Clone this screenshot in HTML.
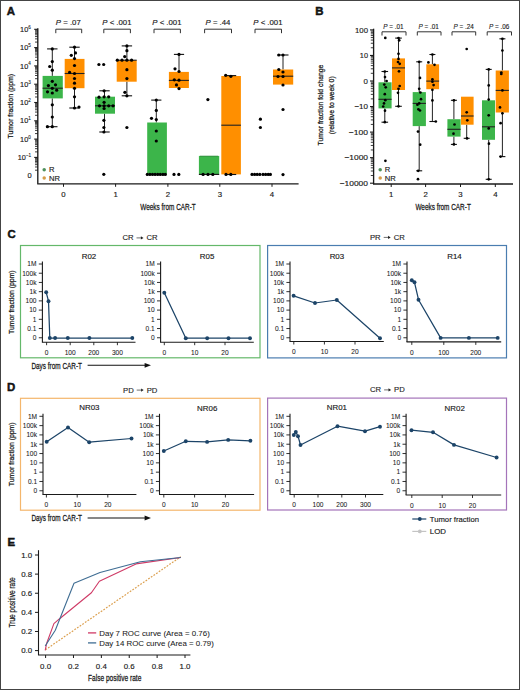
<!DOCTYPE html>
<html><head><meta charset="utf-8"><style>
html,body{margin:0;padding:0;background:#fff;}
svg{display:block;}
text{font-family:"Liberation Sans", sans-serif;fill:#1a1a1a;}
</style></head><body>
<svg width="520" height="690" viewBox="0 0 520 690">
<rect x="0" y="0" width="520" height="690" fill="#fff"/>
<text x="0" y="0" font-size="10.8" font-weight="bold" fill="#000" stroke="#000" stroke-width="0.4" transform="translate(6.70 15.00) scale(1.06 1)">A</text>
<line x1="37.80" y1="28.30" x2="37.80" y2="183.80" stroke="#1a1a1a" stroke-width="1.35"/>
<line x1="37.20" y1="183.80" x2="298.60" y2="183.80" stroke="#1a1a1a" stroke-width="1.3"/>
<line x1="34.20" y1="29.30" x2="37.80" y2="29.30" stroke="#1a1a1a" stroke-width="1.1"/>
<line x1="34.20" y1="47.60" x2="37.80" y2="47.60" stroke="#1a1a1a" stroke-width="1.1"/>
<line x1="34.20" y1="65.90" x2="37.80" y2="65.90" stroke="#1a1a1a" stroke-width="1.1"/>
<line x1="34.20" y1="84.20" x2="37.80" y2="84.20" stroke="#1a1a1a" stroke-width="1.1"/>
<line x1="34.20" y1="102.50" x2="37.80" y2="102.50" stroke="#1a1a1a" stroke-width="1.1"/>
<line x1="34.20" y1="120.80" x2="37.80" y2="120.80" stroke="#1a1a1a" stroke-width="1.1"/>
<line x1="34.20" y1="139.10" x2="37.80" y2="139.10" stroke="#1a1a1a" stroke-width="1.1"/>
<line x1="34.20" y1="157.40" x2="37.80" y2="157.40" stroke="#1a1a1a" stroke-width="1.1"/>
<line x1="35.00" y1="42.09" x2="37.80" y2="42.09" stroke="#1a1a1a" stroke-width="0.85"/>
<line x1="35.00" y1="38.87" x2="37.80" y2="38.87" stroke="#1a1a1a" stroke-width="0.85"/>
<line x1="35.00" y1="36.58" x2="37.80" y2="36.58" stroke="#1a1a1a" stroke-width="0.85"/>
<line x1="35.00" y1="34.81" x2="37.80" y2="34.81" stroke="#1a1a1a" stroke-width="0.85"/>
<line x1="35.00" y1="33.36" x2="37.80" y2="33.36" stroke="#1a1a1a" stroke-width="0.85"/>
<line x1="35.00" y1="32.13" x2="37.80" y2="32.13" stroke="#1a1a1a" stroke-width="0.85"/>
<line x1="35.00" y1="31.07" x2="37.80" y2="31.07" stroke="#1a1a1a" stroke-width="0.85"/>
<line x1="35.00" y1="30.14" x2="37.80" y2="30.14" stroke="#1a1a1a" stroke-width="0.85"/>
<line x1="35.00" y1="60.39" x2="37.80" y2="60.39" stroke="#1a1a1a" stroke-width="0.85"/>
<line x1="35.00" y1="57.17" x2="37.80" y2="57.17" stroke="#1a1a1a" stroke-width="0.85"/>
<line x1="35.00" y1="54.88" x2="37.80" y2="54.88" stroke="#1a1a1a" stroke-width="0.85"/>
<line x1="35.00" y1="53.11" x2="37.80" y2="53.11" stroke="#1a1a1a" stroke-width="0.85"/>
<line x1="35.00" y1="51.66" x2="37.80" y2="51.66" stroke="#1a1a1a" stroke-width="0.85"/>
<line x1="35.00" y1="50.43" x2="37.80" y2="50.43" stroke="#1a1a1a" stroke-width="0.85"/>
<line x1="35.00" y1="49.37" x2="37.80" y2="49.37" stroke="#1a1a1a" stroke-width="0.85"/>
<line x1="35.00" y1="48.44" x2="37.80" y2="48.44" stroke="#1a1a1a" stroke-width="0.85"/>
<line x1="35.00" y1="78.69" x2="37.80" y2="78.69" stroke="#1a1a1a" stroke-width="0.85"/>
<line x1="35.00" y1="75.47" x2="37.80" y2="75.47" stroke="#1a1a1a" stroke-width="0.85"/>
<line x1="35.00" y1="73.18" x2="37.80" y2="73.18" stroke="#1a1a1a" stroke-width="0.85"/>
<line x1="35.00" y1="71.41" x2="37.80" y2="71.41" stroke="#1a1a1a" stroke-width="0.85"/>
<line x1="35.00" y1="69.96" x2="37.80" y2="69.96" stroke="#1a1a1a" stroke-width="0.85"/>
<line x1="35.00" y1="68.73" x2="37.80" y2="68.73" stroke="#1a1a1a" stroke-width="0.85"/>
<line x1="35.00" y1="67.67" x2="37.80" y2="67.67" stroke="#1a1a1a" stroke-width="0.85"/>
<line x1="35.00" y1="66.74" x2="37.80" y2="66.74" stroke="#1a1a1a" stroke-width="0.85"/>
<line x1="35.00" y1="96.99" x2="37.80" y2="96.99" stroke="#1a1a1a" stroke-width="0.85"/>
<line x1="35.00" y1="93.77" x2="37.80" y2="93.77" stroke="#1a1a1a" stroke-width="0.85"/>
<line x1="35.00" y1="91.48" x2="37.80" y2="91.48" stroke="#1a1a1a" stroke-width="0.85"/>
<line x1="35.00" y1="89.71" x2="37.80" y2="89.71" stroke="#1a1a1a" stroke-width="0.85"/>
<line x1="35.00" y1="88.26" x2="37.80" y2="88.26" stroke="#1a1a1a" stroke-width="0.85"/>
<line x1="35.00" y1="87.03" x2="37.80" y2="87.03" stroke="#1a1a1a" stroke-width="0.85"/>
<line x1="35.00" y1="85.97" x2="37.80" y2="85.97" stroke="#1a1a1a" stroke-width="0.85"/>
<line x1="35.00" y1="85.04" x2="37.80" y2="85.04" stroke="#1a1a1a" stroke-width="0.85"/>
<line x1="35.00" y1="115.29" x2="37.80" y2="115.29" stroke="#1a1a1a" stroke-width="0.85"/>
<line x1="35.00" y1="112.07" x2="37.80" y2="112.07" stroke="#1a1a1a" stroke-width="0.85"/>
<line x1="35.00" y1="109.78" x2="37.80" y2="109.78" stroke="#1a1a1a" stroke-width="0.85"/>
<line x1="35.00" y1="108.01" x2="37.80" y2="108.01" stroke="#1a1a1a" stroke-width="0.85"/>
<line x1="35.00" y1="106.56" x2="37.80" y2="106.56" stroke="#1a1a1a" stroke-width="0.85"/>
<line x1="35.00" y1="105.33" x2="37.80" y2="105.33" stroke="#1a1a1a" stroke-width="0.85"/>
<line x1="35.00" y1="104.27" x2="37.80" y2="104.27" stroke="#1a1a1a" stroke-width="0.85"/>
<line x1="35.00" y1="103.34" x2="37.80" y2="103.34" stroke="#1a1a1a" stroke-width="0.85"/>
<line x1="35.00" y1="133.59" x2="37.80" y2="133.59" stroke="#1a1a1a" stroke-width="0.85"/>
<line x1="35.00" y1="130.37" x2="37.80" y2="130.37" stroke="#1a1a1a" stroke-width="0.85"/>
<line x1="35.00" y1="128.08" x2="37.80" y2="128.08" stroke="#1a1a1a" stroke-width="0.85"/>
<line x1="35.00" y1="126.31" x2="37.80" y2="126.31" stroke="#1a1a1a" stroke-width="0.85"/>
<line x1="35.00" y1="124.86" x2="37.80" y2="124.86" stroke="#1a1a1a" stroke-width="0.85"/>
<line x1="35.00" y1="123.63" x2="37.80" y2="123.63" stroke="#1a1a1a" stroke-width="0.85"/>
<line x1="35.00" y1="122.57" x2="37.80" y2="122.57" stroke="#1a1a1a" stroke-width="0.85"/>
<line x1="35.00" y1="121.64" x2="37.80" y2="121.64" stroke="#1a1a1a" stroke-width="0.85"/>
<line x1="35.00" y1="151.89" x2="37.80" y2="151.89" stroke="#1a1a1a" stroke-width="0.85"/>
<line x1="35.00" y1="148.67" x2="37.80" y2="148.67" stroke="#1a1a1a" stroke-width="0.85"/>
<line x1="35.00" y1="146.38" x2="37.80" y2="146.38" stroke="#1a1a1a" stroke-width="0.85"/>
<line x1="35.00" y1="144.61" x2="37.80" y2="144.61" stroke="#1a1a1a" stroke-width="0.85"/>
<line x1="35.00" y1="143.16" x2="37.80" y2="143.16" stroke="#1a1a1a" stroke-width="0.85"/>
<line x1="35.00" y1="141.93" x2="37.80" y2="141.93" stroke="#1a1a1a" stroke-width="0.85"/>
<line x1="35.00" y1="140.87" x2="37.80" y2="140.87" stroke="#1a1a1a" stroke-width="0.85"/>
<line x1="35.00" y1="139.94" x2="37.80" y2="139.94" stroke="#1a1a1a" stroke-width="0.85"/>
<line x1="35.00" y1="170.19" x2="37.80" y2="170.19" stroke="#1a1a1a" stroke-width="0.85"/>
<line x1="35.00" y1="166.97" x2="37.80" y2="166.97" stroke="#1a1a1a" stroke-width="0.85"/>
<line x1="35.00" y1="164.68" x2="37.80" y2="164.68" stroke="#1a1a1a" stroke-width="0.85"/>
<line x1="35.00" y1="162.91" x2="37.80" y2="162.91" stroke="#1a1a1a" stroke-width="0.85"/>
<line x1="35.00" y1="161.46" x2="37.80" y2="161.46" stroke="#1a1a1a" stroke-width="0.85"/>
<line x1="35.00" y1="160.23" x2="37.80" y2="160.23" stroke="#1a1a1a" stroke-width="0.85"/>
<line x1="35.00" y1="159.17" x2="37.80" y2="159.17" stroke="#1a1a1a" stroke-width="0.85"/>
<line x1="35.00" y1="158.24" x2="37.80" y2="158.24" stroke="#1a1a1a" stroke-width="0.85"/>
<text x="28.24" y="31.90" font-size="7.3" text-anchor="end" stroke="#1a1a1a" stroke-width="0.15">10</text>
<text x="28.34" y="28.80" font-size="4.6" stroke="#1a1a1a" stroke-width="0.1">6</text>
<text x="28.24" y="50.20" font-size="7.3" text-anchor="end" stroke="#1a1a1a" stroke-width="0.15">10</text>
<text x="28.34" y="47.10" font-size="4.6" stroke="#1a1a1a" stroke-width="0.1">5</text>
<text x="28.24" y="68.50" font-size="7.3" text-anchor="end" stroke="#1a1a1a" stroke-width="0.15">10</text>
<text x="28.34" y="65.40" font-size="4.6" stroke="#1a1a1a" stroke-width="0.1">4</text>
<text x="28.24" y="86.80" font-size="7.3" text-anchor="end" stroke="#1a1a1a" stroke-width="0.15">10</text>
<text x="28.34" y="83.70" font-size="4.6" stroke="#1a1a1a" stroke-width="0.1">3</text>
<text x="28.24" y="105.10" font-size="7.3" text-anchor="end" stroke="#1a1a1a" stroke-width="0.15">10</text>
<text x="28.34" y="102.00" font-size="4.6" stroke="#1a1a1a" stroke-width="0.1">2</text>
<text x="28.24" y="123.40" font-size="7.3" text-anchor="end" stroke="#1a1a1a" stroke-width="0.15">10</text>
<text x="28.34" y="120.30" font-size="4.6" stroke="#1a1a1a" stroke-width="0.1">1</text>
<text x="28.24" y="141.70" font-size="7.3" text-anchor="end" stroke="#1a1a1a" stroke-width="0.15">10</text>
<text x="28.34" y="138.60" font-size="4.6" stroke="#1a1a1a" stroke-width="0.1">0</text>
<text x="25.80" y="160.00" font-size="7.3" text-anchor="end" stroke="#1a1a1a" stroke-width="0.15">10</text>
<text x="25.90" y="156.90" font-size="4.6" stroke="#1a1a1a" stroke-width="0.1">&#8722;1</text>
<text x="31.60" y="178.32" font-size="7.5" text-anchor="end" stroke="#1a1a1a" stroke-width="0.15">0</text>
<text x="12.90" y="106.20" font-size="8" text-anchor="middle" stroke="#1a1a1a" stroke-width="0.26" textLength="64.70" lengthAdjust="spacingAndGlyphs" transform="rotate(-90 12.90 106.20)">Tumor fraction (ppm)</text>
<line x1="63.50" y1="183.80" x2="63.50" y2="186.80" stroke="#1a1a1a" stroke-width="1"/>
<text x="63.50" y="197.13" font-size="7.8" text-anchor="middle" stroke="#1a1a1a" stroke-width="0.15">0</text>
<line x1="115.60" y1="183.80" x2="115.60" y2="186.80" stroke="#1a1a1a" stroke-width="1"/>
<text x="115.60" y="197.13" font-size="7.8" text-anchor="middle" stroke="#1a1a1a" stroke-width="0.15">1</text>
<line x1="167.90" y1="183.80" x2="167.90" y2="186.80" stroke="#1a1a1a" stroke-width="1"/>
<text x="167.90" y="197.13" font-size="7.8" text-anchor="middle" stroke="#1a1a1a" stroke-width="0.15">2</text>
<line x1="219.80" y1="183.80" x2="219.80" y2="186.80" stroke="#1a1a1a" stroke-width="1"/>
<text x="219.80" y="197.13" font-size="7.8" text-anchor="middle" stroke="#1a1a1a" stroke-width="0.15">3</text>
<line x1="272.00" y1="183.80" x2="272.00" y2="186.80" stroke="#1a1a1a" stroke-width="1"/>
<text x="272.00" y="197.13" font-size="7.8" text-anchor="middle" stroke="#1a1a1a" stroke-width="0.15">4</text>
<text x="168.00" y="210.20" font-size="9" text-anchor="middle" stroke="#1a1a1a" stroke-width="0.26" textLength="55.40" lengthAdjust="spacingAndGlyphs">Weeks from CAR-T</text>
<text x="68.30" y="25.35" font-size="7.8" text-anchor="middle" stroke="#1a1a1a" stroke-width="0.15"><tspan font-style="italic">P</tspan> = .07</text>
<text x="116.90" y="25.35" font-size="7.8" text-anchor="middle" stroke="#1a1a1a" stroke-width="0.15"><tspan font-style="italic">P</tspan> &lt; .001</text>
<text x="166.90" y="25.35" font-size="7.8" text-anchor="middle" stroke="#1a1a1a" stroke-width="0.15"><tspan font-style="italic">P</tspan> &lt; .001</text>
<text x="218.00" y="25.35" font-size="7.8" text-anchor="middle" stroke="#1a1a1a" stroke-width="0.15"><tspan font-style="italic">P</tspan> = .44</text>
<text x="267.90" y="25.35" font-size="7.8" text-anchor="middle" stroke="#1a1a1a" stroke-width="0.15"><tspan font-style="italic">P</tspan> &lt; .001</text>
<polyline points="55.80,33.2 55.80,29.2 81.70,29.2 81.70,33.2" fill="none" stroke="#333" stroke-width="1"/>
<polyline points="103.80,33.2 103.80,29.2 130.40,29.2 130.40,33.2" fill="none" stroke="#333" stroke-width="1"/>
<polyline points="154.00,33.2 154.00,29.2 180.40,29.2 180.40,33.2" fill="none" stroke="#333" stroke-width="1"/>
<polyline points="204.60,33.2 204.60,29.2 231.50,29.2 231.50,33.2" fill="none" stroke="#333" stroke-width="1"/>
<polyline points="255.00,33.2 255.00,29.2 281.50,29.2 281.50,33.2" fill="none" stroke="#333" stroke-width="1"/>
<line x1="52.30" y1="48.90" x2="52.30" y2="75.90" stroke="#222" stroke-width="1"/>
<line x1="47.10" y1="48.90" x2="57.50" y2="48.90" stroke="#111" stroke-width="1.1"/>
<line x1="52.30" y1="98.40" x2="52.30" y2="126.70" stroke="#222" stroke-width="1"/>
<line x1="47.10" y1="126.70" x2="57.50" y2="126.70" stroke="#111" stroke-width="1.1"/>
<rect x="42.60" y="75.90" width="20.20" height="22.50" fill="#3cb54a" stroke="none" stroke-width="1"/>
<line x1="42.60" y1="88.20" x2="62.80" y2="88.20" stroke="#222" stroke-width="1.1"/>
<line x1="74.50" y1="47.20" x2="74.50" y2="58.90" stroke="#222" stroke-width="1"/>
<line x1="69.30" y1="47.20" x2="79.70" y2="47.20" stroke="#111" stroke-width="1.1"/>
<line x1="74.50" y1="88.20" x2="74.50" y2="108.00" stroke="#222" stroke-width="1"/>
<line x1="69.30" y1="108.00" x2="79.70" y2="108.00" stroke="#111" stroke-width="1.1"/>
<rect x="64.70" y="58.90" width="19.80" height="29.30" fill="#ff8f00" stroke="none" stroke-width="1"/>
<line x1="64.70" y1="73.50" x2="84.50" y2="73.50" stroke="#222" stroke-width="1.1"/>
<line x1="104.50" y1="90.80" x2="104.50" y2="96.70" stroke="#222" stroke-width="1"/>
<line x1="99.30" y1="90.80" x2="109.70" y2="90.80" stroke="#111" stroke-width="1.1"/>
<line x1="104.50" y1="113.70" x2="104.50" y2="132.00" stroke="#222" stroke-width="1"/>
<line x1="99.30" y1="132.00" x2="109.70" y2="132.00" stroke="#111" stroke-width="1.1"/>
<rect x="95.00" y="96.70" width="20.00" height="17.00" fill="#3cb54a" stroke="none" stroke-width="1"/>
<line x1="95.00" y1="105.80" x2="115.00" y2="105.80" stroke="#222" stroke-width="1.1"/>
<line x1="126.90" y1="45.90" x2="126.90" y2="60.20" stroke="#222" stroke-width="1"/>
<line x1="121.70" y1="45.90" x2="132.10" y2="45.90" stroke="#111" stroke-width="1.1"/>
<line x1="126.90" y1="81.70" x2="126.90" y2="95.80" stroke="#222" stroke-width="1"/>
<line x1="121.70" y1="95.80" x2="132.10" y2="95.80" stroke="#111" stroke-width="1.1"/>
<rect x="116.70" y="60.20" width="20.00" height="21.50" fill="#ff8f00" stroke="none" stroke-width="1"/>
<line x1="116.70" y1="60.20" x2="136.70" y2="60.20" stroke="#222" stroke-width="1.1"/>
<line x1="156.30" y1="100.10" x2="156.30" y2="122.50" stroke="#222" stroke-width="1"/>
<line x1="151.20" y1="100.10" x2="161.40" y2="100.10" stroke="#111" stroke-width="1.1"/>
<rect x="147.20" y="122.50" width="19.70" height="51.90" fill="#3cb54a" stroke="none" stroke-width="1"/>
<line x1="179.00" y1="54.40" x2="179.00" y2="71.90" stroke="#222" stroke-width="1"/>
<line x1="173.90" y1="54.40" x2="184.10" y2="54.40" stroke="#111" stroke-width="1.1"/>
<rect x="168.90" y="71.90" width="20.00" height="16.10" fill="#ff8f00" stroke="none" stroke-width="1"/>
<line x1="168.90" y1="80.40" x2="188.90" y2="80.40" stroke="#222" stroke-width="1.1"/>
<rect x="198.90" y="155.90" width="20.30" height="18.50" fill="#3cb54a" stroke="none" stroke-width="1"/>
<line x1="198.90" y1="174.40" x2="219.20" y2="174.40" stroke="#111" stroke-width="1.1"/>
<line x1="200.00" y1="156.20" x2="218.00" y2="156.20" stroke="#2f7a3a" stroke-width="0.6"/>
<rect x="221.30" y="76.00" width="19.60" height="98.40" fill="#ff8f00" stroke="none" stroke-width="1"/>
<line x1="221.30" y1="125.20" x2="240.90" y2="125.20" stroke="#222" stroke-width="1.1"/>
<line x1="226.00" y1="75.60" x2="236.20" y2="75.60" stroke="#111" stroke-width="1.1"/>
<line x1="226.00" y1="174.50" x2="236.20" y2="174.50" stroke="#111" stroke-width="1.1"/>
<line x1="283.00" y1="55.00" x2="283.00" y2="69.50" stroke="#222" stroke-width="1"/>
<line x1="277.50" y1="55.00" x2="288.50" y2="55.00" stroke="#111" stroke-width="1.1"/>
<rect x="273.00" y="69.50" width="20.20" height="15.10" fill="#ff8f00" stroke="none" stroke-width="1"/>
<line x1="273.00" y1="76.20" x2="293.20" y2="76.20" stroke="#222" stroke-width="1.1"/>
<circle cx="52.30" cy="48.90" r="1.6" fill="#000"/>
<circle cx="52.30" cy="61.60" r="1.6" fill="#000"/>
<circle cx="49.70" cy="66.50" r="1.6" fill="#000"/>
<circle cx="52.30" cy="70.20" r="1.6" fill="#000"/>
<circle cx="52.30" cy="81.30" r="1.6" fill="#000"/>
<circle cx="48.40" cy="85.60" r="1.6" fill="#000"/>
<circle cx="55.50" cy="84.80" r="1.6" fill="#000"/>
<circle cx="52.30" cy="88.30" r="1.6" fill="#000"/>
<circle cx="47.50" cy="91.80" r="1.6" fill="#000"/>
<circle cx="56.70" cy="90.20" r="1.6" fill="#000"/>
<circle cx="52.30" cy="93.00" r="1.6" fill="#000"/>
<circle cx="52.30" cy="104.80" r="1.6" fill="#000"/>
<circle cx="52.30" cy="117.00" r="1.6" fill="#000"/>
<circle cx="47.40" cy="126.70" r="1.6" fill="#000"/>
<circle cx="52.30" cy="126.70" r="1.6" fill="#000"/>
<circle cx="74.50" cy="47.20" r="1.6" fill="#000"/>
<circle cx="75.50" cy="52.90" r="1.6" fill="#000"/>
<circle cx="71.30" cy="55.30" r="1.6" fill="#000"/>
<circle cx="74.50" cy="58.60" r="1.6" fill="#000"/>
<circle cx="74.50" cy="65.50" r="1.6" fill="#000"/>
<circle cx="69.60" cy="72.40" r="1.6" fill="#000"/>
<circle cx="74.50" cy="73.50" r="1.6" fill="#000"/>
<circle cx="74.50" cy="78.50" r="1.6" fill="#000"/>
<circle cx="74.50" cy="83.20" r="1.6" fill="#000"/>
<circle cx="74.50" cy="88.30" r="1.6" fill="#000"/>
<circle cx="74.50" cy="96.80" r="1.6" fill="#000"/>
<circle cx="74.50" cy="108.00" r="1.6" fill="#000"/>
<circle cx="79.00" cy="107.00" r="1.6" fill="#000"/>
<circle cx="98.90" cy="64.50" r="1.6" fill="#000"/>
<circle cx="103.70" cy="64.50" r="1.6" fill="#000"/>
<circle cx="104.10" cy="90.80" r="1.6" fill="#000"/>
<circle cx="99.00" cy="97.20" r="1.6" fill="#000"/>
<circle cx="104.10" cy="96.80" r="1.6" fill="#000"/>
<circle cx="108.70" cy="96.80" r="1.6" fill="#000"/>
<circle cx="104.10" cy="102.30" r="1.6" fill="#000"/>
<circle cx="99.50" cy="105.80" r="1.6" fill="#000"/>
<circle cx="104.10" cy="105.80" r="1.6" fill="#000"/>
<circle cx="108.70" cy="105.80" r="1.6" fill="#000"/>
<circle cx="113.00" cy="105.80" r="1.6" fill="#000"/>
<circle cx="104.10" cy="108.50" r="1.6" fill="#000"/>
<circle cx="103.90" cy="120.30" r="1.6" fill="#000"/>
<circle cx="103.90" cy="127.50" r="1.6" fill="#000"/>
<circle cx="103.90" cy="132.00" r="1.6" fill="#000"/>
<circle cx="103.80" cy="174.30" r="1.6" fill="#000"/>
<circle cx="126.90" cy="45.90" r="1.6" fill="#000"/>
<circle cx="126.90" cy="50.70" r="1.6" fill="#000"/>
<circle cx="124.70" cy="56.60" r="1.6" fill="#000"/>
<circle cx="117.30" cy="60.20" r="1.6" fill="#000"/>
<circle cx="122.00" cy="60.20" r="1.6" fill="#000"/>
<circle cx="126.90" cy="60.20" r="1.6" fill="#000"/>
<circle cx="131.60" cy="60.20" r="1.6" fill="#000"/>
<circle cx="126.90" cy="69.70" r="1.6" fill="#000"/>
<circle cx="126.90" cy="78.60" r="1.6" fill="#000"/>
<circle cx="124.90" cy="92.30" r="1.6" fill="#000"/>
<circle cx="126.90" cy="95.80" r="1.6" fill="#000"/>
<circle cx="126.90" cy="127.50" r="1.6" fill="#000"/>
<circle cx="156.30" cy="100.10" r="1.6" fill="#000"/>
<circle cx="156.30" cy="110.40" r="1.6" fill="#000"/>
<circle cx="151.50" cy="118.30" r="1.6" fill="#000"/>
<circle cx="156.30" cy="119.50" r="1.6" fill="#000"/>
<circle cx="156.30" cy="131.00" r="1.6" fill="#000"/>
<circle cx="156.30" cy="141.00" r="1.6" fill="#000"/>
<circle cx="147.30" cy="174.40" r="1.6" fill="#000"/>
<circle cx="149.90" cy="174.40" r="1.6" fill="#000"/>
<circle cx="152.50" cy="174.40" r="1.6" fill="#000"/>
<circle cx="155.10" cy="174.40" r="1.6" fill="#000"/>
<circle cx="157.70" cy="174.40" r="1.6" fill="#000"/>
<circle cx="160.30" cy="174.40" r="1.6" fill="#000"/>
<circle cx="162.90" cy="174.40" r="1.6" fill="#000"/>
<circle cx="165.30" cy="174.40" r="1.6" fill="#000"/>
<circle cx="174.00" cy="174.40" r="1.6" fill="#000"/>
<circle cx="178.80" cy="174.40" r="1.6" fill="#000"/>
<circle cx="179.00" cy="54.40" r="1.6" fill="#000"/>
<circle cx="175.00" cy="68.80" r="1.6" fill="#000"/>
<circle cx="179.00" cy="71.50" r="1.6" fill="#000"/>
<circle cx="174.30" cy="79.80" r="1.6" fill="#000"/>
<circle cx="179.00" cy="80.20" r="1.6" fill="#000"/>
<circle cx="176.50" cy="84.90" r="1.6" fill="#000"/>
<circle cx="179.00" cy="88.60" r="1.6" fill="#000"/>
<circle cx="207.90" cy="99.60" r="1.6" fill="#000"/>
<circle cx="203.10" cy="174.40" r="1.6" fill="#000"/>
<circle cx="208.00" cy="174.40" r="1.6" fill="#000"/>
<circle cx="212.80" cy="174.40" r="1.6" fill="#000"/>
<circle cx="225.70" cy="75.30" r="1.6" fill="#000"/>
<circle cx="230.90" cy="76.30" r="1.6" fill="#000"/>
<circle cx="226.00" cy="174.40" r="1.6" fill="#000"/>
<circle cx="230.80" cy="174.40" r="1.6" fill="#000"/>
<circle cx="260.40" cy="119.20" r="1.6" fill="#000"/>
<circle cx="260.40" cy="127.50" r="1.6" fill="#000"/>
<circle cx="252.00" cy="174.40" r="1.6" fill="#000"/>
<circle cx="254.60" cy="174.40" r="1.6" fill="#000"/>
<circle cx="257.20" cy="174.40" r="1.6" fill="#000"/>
<circle cx="259.80" cy="174.40" r="1.6" fill="#000"/>
<circle cx="263.00" cy="174.40" r="1.6" fill="#000"/>
<circle cx="265.60" cy="174.40" r="1.6" fill="#000"/>
<circle cx="268.20" cy="174.40" r="1.6" fill="#000"/>
<circle cx="270.40" cy="174.40" r="1.6" fill="#000"/>
<circle cx="278.80" cy="55.00" r="1.6" fill="#000"/>
<circle cx="283.00" cy="55.00" r="1.6" fill="#000"/>
<circle cx="278.80" cy="69.50" r="1.6" fill="#000"/>
<circle cx="283.00" cy="72.00" r="1.6" fill="#000"/>
<circle cx="278.00" cy="76.50" r="1.6" fill="#000"/>
<circle cx="283.00" cy="76.50" r="1.6" fill="#000"/>
<circle cx="283.00" cy="85.00" r="1.6" fill="#000"/>
<circle cx="283.00" cy="109.50" r="1.6" fill="#000"/>
<circle cx="283.00" cy="174.60" r="1.6" fill="#000"/>
<circle cx="44.20" cy="169.80" r="1.75" fill="#4f8f5a"/>
<text x="49.10" y="172.46" font-size="7.6" text-anchor="start" stroke="#1a1a1a" stroke-width="0.15">R</text>
<circle cx="44.20" cy="178.00" r="1.75" fill="#d69c48"/>
<text x="49.10" y="180.66" font-size="7.6" text-anchor="start" stroke="#1a1a1a" stroke-width="0.15">NR</text>
<text x="0" y="0" font-size="10.8" font-weight="bold" fill="#000" stroke="#000" stroke-width="0.4" transform="translate(315.20 15.00) scale(1.06 1)">B</text>
<line x1="373.60" y1="28.70" x2="373.60" y2="184.00" stroke="#1a1a1a" stroke-width="1.35"/>
<line x1="373.00" y1="184.00" x2="513.00" y2="184.00" stroke="#1a1a1a" stroke-width="1.3"/>
<line x1="370.00" y1="29.90" x2="373.60" y2="29.90" stroke="#1a1a1a" stroke-width="1.1"/>
<text x="368.00" y="32.63" font-size="7.8" text-anchor="end" stroke="#1a1a1a" stroke-width="0.15" textLength="13.00" lengthAdjust="spacingAndGlyphs">100</text>
<line x1="370.00" y1="55.45" x2="373.60" y2="55.45" stroke="#1a1a1a" stroke-width="1.1"/>
<text x="368.00" y="58.18" font-size="7.8" text-anchor="end" stroke="#1a1a1a" stroke-width="0.15" textLength="8.20" lengthAdjust="spacingAndGlyphs">10</text>
<line x1="370.00" y1="81.00" x2="373.60" y2="81.00" stroke="#1a1a1a" stroke-width="1.1"/>
<text x="368.00" y="83.73" font-size="7.8" text-anchor="end" stroke="#1a1a1a" stroke-width="0.15" textLength="4.40" lengthAdjust="spacingAndGlyphs">0</text>
<line x1="370.00" y1="106.55" x2="373.60" y2="106.55" stroke="#1a1a1a" stroke-width="1.1"/>
<text x="368.00" y="109.28" font-size="7.8" text-anchor="end" stroke="#1a1a1a" stroke-width="0.15" textLength="13.60" lengthAdjust="spacingAndGlyphs">&#8722;10</text>
<line x1="370.00" y1="132.10" x2="373.60" y2="132.10" stroke="#1a1a1a" stroke-width="1.1"/>
<text x="368.00" y="134.83" font-size="7.8" text-anchor="end" stroke="#1a1a1a" stroke-width="0.15" textLength="19.20" lengthAdjust="spacingAndGlyphs">&#8722;100</text>
<line x1="370.00" y1="157.65" x2="373.60" y2="157.65" stroke="#1a1a1a" stroke-width="1.1"/>
<text x="368.00" y="160.38" font-size="7.8" text-anchor="end" stroke="#1a1a1a" stroke-width="0.15" textLength="23.60" lengthAdjust="spacingAndGlyphs">&#8722;1000</text>
<line x1="370.00" y1="183.20" x2="373.60" y2="183.20" stroke="#1a1a1a" stroke-width="1.1"/>
<text x="368.00" y="185.93" font-size="7.8" text-anchor="end" stroke="#1a1a1a" stroke-width="0.15" textLength="28.30" lengthAdjust="spacingAndGlyphs">&#8722;10000</text>
<line x1="370.80" y1="47.76" x2="373.60" y2="47.76" stroke="#1a1a1a" stroke-width="0.85"/>
<line x1="370.80" y1="43.26" x2="373.60" y2="43.26" stroke="#1a1a1a" stroke-width="0.85"/>
<line x1="370.80" y1="40.07" x2="373.60" y2="40.07" stroke="#1a1a1a" stroke-width="0.85"/>
<line x1="370.80" y1="37.59" x2="373.60" y2="37.59" stroke="#1a1a1a" stroke-width="0.85"/>
<line x1="370.80" y1="35.57" x2="373.60" y2="35.57" stroke="#1a1a1a" stroke-width="0.85"/>
<line x1="370.80" y1="33.86" x2="373.60" y2="33.86" stroke="#1a1a1a" stroke-width="0.85"/>
<line x1="370.80" y1="32.38" x2="373.60" y2="32.38" stroke="#1a1a1a" stroke-width="0.85"/>
<line x1="370.80" y1="31.07" x2="373.60" y2="31.07" stroke="#1a1a1a" stroke-width="0.85"/>
<line x1="370.80" y1="73.31" x2="373.60" y2="73.31" stroke="#1a1a1a" stroke-width="0.85"/>
<line x1="370.80" y1="68.81" x2="373.60" y2="68.81" stroke="#1a1a1a" stroke-width="0.85"/>
<line x1="370.80" y1="65.62" x2="373.60" y2="65.62" stroke="#1a1a1a" stroke-width="0.85"/>
<line x1="370.80" y1="63.14" x2="373.60" y2="63.14" stroke="#1a1a1a" stroke-width="0.85"/>
<line x1="370.80" y1="61.12" x2="373.60" y2="61.12" stroke="#1a1a1a" stroke-width="0.85"/>
<line x1="370.80" y1="59.41" x2="373.60" y2="59.41" stroke="#1a1a1a" stroke-width="0.85"/>
<line x1="370.80" y1="57.93" x2="373.60" y2="57.93" stroke="#1a1a1a" stroke-width="0.85"/>
<line x1="370.80" y1="56.62" x2="373.60" y2="56.62" stroke="#1a1a1a" stroke-width="0.85"/>
<line x1="370.80" y1="98.86" x2="373.60" y2="98.86" stroke="#1a1a1a" stroke-width="0.85"/>
<line x1="370.80" y1="94.36" x2="373.60" y2="94.36" stroke="#1a1a1a" stroke-width="0.85"/>
<line x1="370.80" y1="91.17" x2="373.60" y2="91.17" stroke="#1a1a1a" stroke-width="0.85"/>
<line x1="370.80" y1="88.69" x2="373.60" y2="88.69" stroke="#1a1a1a" stroke-width="0.85"/>
<line x1="370.80" y1="86.67" x2="373.60" y2="86.67" stroke="#1a1a1a" stroke-width="0.85"/>
<line x1="370.80" y1="84.96" x2="373.60" y2="84.96" stroke="#1a1a1a" stroke-width="0.85"/>
<line x1="370.80" y1="83.48" x2="373.60" y2="83.48" stroke="#1a1a1a" stroke-width="0.85"/>
<line x1="370.80" y1="82.17" x2="373.60" y2="82.17" stroke="#1a1a1a" stroke-width="0.85"/>
<line x1="370.80" y1="124.41" x2="373.60" y2="124.41" stroke="#1a1a1a" stroke-width="0.85"/>
<line x1="370.80" y1="119.91" x2="373.60" y2="119.91" stroke="#1a1a1a" stroke-width="0.85"/>
<line x1="370.80" y1="116.72" x2="373.60" y2="116.72" stroke="#1a1a1a" stroke-width="0.85"/>
<line x1="370.80" y1="114.24" x2="373.60" y2="114.24" stroke="#1a1a1a" stroke-width="0.85"/>
<line x1="370.80" y1="112.22" x2="373.60" y2="112.22" stroke="#1a1a1a" stroke-width="0.85"/>
<line x1="370.80" y1="110.51" x2="373.60" y2="110.51" stroke="#1a1a1a" stroke-width="0.85"/>
<line x1="370.80" y1="109.03" x2="373.60" y2="109.03" stroke="#1a1a1a" stroke-width="0.85"/>
<line x1="370.80" y1="107.72" x2="373.60" y2="107.72" stroke="#1a1a1a" stroke-width="0.85"/>
<line x1="370.80" y1="149.96" x2="373.60" y2="149.96" stroke="#1a1a1a" stroke-width="0.85"/>
<line x1="370.80" y1="145.46" x2="373.60" y2="145.46" stroke="#1a1a1a" stroke-width="0.85"/>
<line x1="370.80" y1="142.27" x2="373.60" y2="142.27" stroke="#1a1a1a" stroke-width="0.85"/>
<line x1="370.80" y1="139.79" x2="373.60" y2="139.79" stroke="#1a1a1a" stroke-width="0.85"/>
<line x1="370.80" y1="137.77" x2="373.60" y2="137.77" stroke="#1a1a1a" stroke-width="0.85"/>
<line x1="370.80" y1="136.06" x2="373.60" y2="136.06" stroke="#1a1a1a" stroke-width="0.85"/>
<line x1="370.80" y1="134.58" x2="373.60" y2="134.58" stroke="#1a1a1a" stroke-width="0.85"/>
<line x1="370.80" y1="133.27" x2="373.60" y2="133.27" stroke="#1a1a1a" stroke-width="0.85"/>
<line x1="370.80" y1="175.51" x2="373.60" y2="175.51" stroke="#1a1a1a" stroke-width="0.85"/>
<line x1="370.80" y1="171.01" x2="373.60" y2="171.01" stroke="#1a1a1a" stroke-width="0.85"/>
<line x1="370.80" y1="167.82" x2="373.60" y2="167.82" stroke="#1a1a1a" stroke-width="0.85"/>
<line x1="370.80" y1="165.34" x2="373.60" y2="165.34" stroke="#1a1a1a" stroke-width="0.85"/>
<line x1="370.80" y1="163.32" x2="373.60" y2="163.32" stroke="#1a1a1a" stroke-width="0.85"/>
<line x1="370.80" y1="161.61" x2="373.60" y2="161.61" stroke="#1a1a1a" stroke-width="0.85"/>
<line x1="370.80" y1="160.13" x2="373.60" y2="160.13" stroke="#1a1a1a" stroke-width="0.85"/>
<line x1="370.80" y1="158.82" x2="373.60" y2="158.82" stroke="#1a1a1a" stroke-width="0.85"/>
<text x="323.10" y="105.00" font-size="8" text-anchor="middle" stroke="#1a1a1a" stroke-width="0.26" textLength="80.80" lengthAdjust="spacingAndGlyphs" transform="rotate(-90 323.10 105.00)">Tumor fraction fold change</text>
<text x="334.20" y="105.30" font-size="8" text-anchor="middle" stroke="#1a1a1a" stroke-width="0.26" textLength="58.00" lengthAdjust="spacingAndGlyphs" transform="rotate(-90 334.20 105.30)">(relative to week 0)</text>
<line x1="391.20" y1="184.00" x2="391.20" y2="187.00" stroke="#1a1a1a" stroke-width="1"/>
<text x="391.20" y="196.93" font-size="7.8" text-anchor="middle" stroke="#1a1a1a" stroke-width="0.15">1</text>
<line x1="425.60" y1="184.00" x2="425.60" y2="187.00" stroke="#1a1a1a" stroke-width="1"/>
<text x="425.60" y="196.93" font-size="7.8" text-anchor="middle" stroke="#1a1a1a" stroke-width="0.15">2</text>
<line x1="460.50" y1="184.00" x2="460.50" y2="187.00" stroke="#1a1a1a" stroke-width="1"/>
<text x="460.50" y="196.93" font-size="7.8" text-anchor="middle" stroke="#1a1a1a" stroke-width="0.15">3</text>
<line x1="495.30" y1="184.00" x2="495.30" y2="187.00" stroke="#1a1a1a" stroke-width="1"/>
<text x="495.30" y="196.93" font-size="7.8" text-anchor="middle" stroke="#1a1a1a" stroke-width="0.15">4</text>
<text x="443.10" y="210.20" font-size="9" text-anchor="middle" stroke="#1a1a1a" stroke-width="0.26" textLength="55.40" lengthAdjust="spacingAndGlyphs">Weeks from CAR-T</text>
<text x="393.40" y="29.40" font-size="6.4" text-anchor="middle" stroke="#1a1a1a" stroke-width="0.12"><tspan font-style="italic">P</tspan> = .01</text>
<text x="428.60" y="29.40" font-size="6.4" text-anchor="middle" stroke="#1a1a1a" stroke-width="0.12"><tspan font-style="italic">P</tspan> = .01</text>
<text x="463.60" y="29.40" font-size="6.4" text-anchor="middle" stroke="#1a1a1a" stroke-width="0.12"><tspan font-style="italic">P</tspan> = .24</text>
<text x="499.20" y="29.40" font-size="6.4" text-anchor="middle" stroke="#1a1a1a" stroke-width="0.12"><tspan font-style="italic">P</tspan> = .06</text>
<polyline points="382.00,35.5 382.00,31.8 406.00,31.8 406.00,35.5" fill="none" stroke="#333" stroke-width="1"/>
<polyline points="417.30,35.5 417.30,31.8 441.00,31.8 441.00,35.5" fill="none" stroke="#333" stroke-width="1"/>
<polyline points="452.00,35.5 452.00,31.8 475.70,31.8 475.70,35.5" fill="none" stroke="#333" stroke-width="1"/>
<polyline points="487.20,35.5 487.20,31.8 511.50,31.8 511.50,35.5" fill="none" stroke="#333" stroke-width="1"/>
<line x1="384.80" y1="71.50" x2="384.80" y2="82.30" stroke="#222" stroke-width="1"/>
<line x1="381.50" y1="71.50" x2="388.10" y2="71.50" stroke="#111" stroke-width="1.1"/>
<line x1="384.80" y1="108.40" x2="384.80" y2="122.20" stroke="#222" stroke-width="1"/>
<line x1="381.50" y1="122.20" x2="388.10" y2="122.20" stroke="#111" stroke-width="1.1"/>
<rect x="378.50" y="82.30" width="13.10" height="26.10" fill="#3cb54a" stroke="none" stroke-width="1"/>
<line x1="378.50" y1="99.30" x2="391.60" y2="99.30" stroke="#222" stroke-width="1.1"/>
<line x1="398.50" y1="38.10" x2="398.50" y2="58.40" stroke="#222" stroke-width="1"/>
<line x1="395.20" y1="38.10" x2="401.80" y2="38.10" stroke="#111" stroke-width="1.1"/>
<line x1="398.50" y1="90.00" x2="398.50" y2="106.30" stroke="#222" stroke-width="1"/>
<line x1="395.20" y1="106.30" x2="401.80" y2="106.30" stroke="#111" stroke-width="1.1"/>
<rect x="392.00" y="58.40" width="13.00" height="31.60" fill="#ff8f00" stroke="none" stroke-width="1"/>
<line x1="392.00" y1="67.90" x2="405.00" y2="67.90" stroke="#222" stroke-width="1.1"/>
<line x1="419.20" y1="61.80" x2="419.20" y2="92.10" stroke="#222" stroke-width="1"/>
<line x1="416.20" y1="61.80" x2="422.20" y2="61.80" stroke="#111" stroke-width="1.1"/>
<line x1="419.20" y1="126.10" x2="419.20" y2="170.80" stroke="#222" stroke-width="1"/>
<line x1="416.20" y1="170.80" x2="422.20" y2="170.80" stroke="#111" stroke-width="1.1"/>
<rect x="412.70" y="92.10" width="13.20" height="34.00" fill="#3cb54a" stroke="none" stroke-width="1"/>
<line x1="412.70" y1="103.40" x2="425.90" y2="103.40" stroke="#222" stroke-width="1.1"/>
<line x1="432.40" y1="54.50" x2="432.40" y2="64.30" stroke="#222" stroke-width="1"/>
<line x1="429.40" y1="54.50" x2="435.40" y2="54.50" stroke="#111" stroke-width="1.1"/>
<line x1="432.40" y1="89.20" x2="432.40" y2="121.50" stroke="#222" stroke-width="1"/>
<line x1="429.40" y1="121.50" x2="435.40" y2="121.50" stroke="#111" stroke-width="1.1"/>
<rect x="426.30" y="64.30" width="12.80" height="24.90" fill="#ff8f00" stroke="none" stroke-width="1"/>
<line x1="426.30" y1="81.10" x2="439.10" y2="81.10" stroke="#222" stroke-width="1.1"/>
<line x1="453.90" y1="100.30" x2="453.90" y2="119.20" stroke="#222" stroke-width="1"/>
<line x1="450.90" y1="100.30" x2="456.90" y2="100.30" stroke="#111" stroke-width="1.1"/>
<line x1="453.90" y1="136.60" x2="453.90" y2="144.40" stroke="#222" stroke-width="1"/>
<line x1="450.90" y1="144.40" x2="456.90" y2="144.40" stroke="#111" stroke-width="1.1"/>
<rect x="447.40" y="119.20" width="13.20" height="17.40" fill="#3cb54a" stroke="none" stroke-width="1"/>
<line x1="447.40" y1="129.30" x2="460.60" y2="129.30" stroke="#222" stroke-width="1.1"/>
<line x1="466.70" y1="124.70" x2="466.70" y2="138.30" stroke="#222" stroke-width="1"/>
<line x1="463.70" y1="138.30" x2="469.70" y2="138.30" stroke="#111" stroke-width="1.1"/>
<rect x="461.00" y="96.70" width="12.60" height="28.00" fill="#ff8f00" stroke="none" stroke-width="1"/>
<line x1="461.00" y1="116.00" x2="473.60" y2="116.00" stroke="#222" stroke-width="1.1"/>
<line x1="488.70" y1="69.40" x2="488.70" y2="100.30" stroke="#222" stroke-width="1"/>
<line x1="485.70" y1="69.40" x2="491.70" y2="69.40" stroke="#111" stroke-width="1.1"/>
<line x1="488.70" y1="139.80" x2="488.70" y2="179.30" stroke="#222" stroke-width="1"/>
<line x1="485.70" y1="179.30" x2="491.70" y2="179.30" stroke="#111" stroke-width="1.1"/>
<rect x="482.00" y="100.30" width="13.00" height="39.50" fill="#3cb54a" stroke="none" stroke-width="1"/>
<line x1="482.00" y1="126.80" x2="495.00" y2="126.80" stroke="#222" stroke-width="1.1"/>
<line x1="502.40" y1="38.80" x2="502.40" y2="70.50" stroke="#222" stroke-width="1"/>
<line x1="499.40" y1="38.80" x2="505.40" y2="38.80" stroke="#111" stroke-width="1.1"/>
<line x1="502.40" y1="112.50" x2="502.40" y2="156.60" stroke="#222" stroke-width="1"/>
<line x1="499.40" y1="156.60" x2="505.40" y2="156.60" stroke="#111" stroke-width="1.1"/>
<rect x="495.70" y="70.50" width="13.20" height="42.00" fill="#ff8f00" stroke="none" stroke-width="1"/>
<line x1="495.70" y1="90.40" x2="508.90" y2="90.40" stroke="#222" stroke-width="1.1"/>
<circle cx="385.30" cy="37.90" r="1.35" fill="#000"/>
<circle cx="384.80" cy="71.50" r="1.35" fill="#000"/>
<circle cx="385.00" cy="77.10" r="1.35" fill="#000"/>
<circle cx="386.60" cy="81.00" r="1.35" fill="#000"/>
<circle cx="384.30" cy="84.60" r="1.35" fill="#000"/>
<circle cx="385.70" cy="87.30" r="1.35" fill="#000"/>
<circle cx="384.80" cy="94.20" r="1.35" fill="#000"/>
<circle cx="385.30" cy="100.20" r="1.35" fill="#000"/>
<circle cx="384.00" cy="103.40" r="1.35" fill="#000"/>
<circle cx="383.20" cy="106.50" r="1.35" fill="#000"/>
<circle cx="385.00" cy="110.70" r="1.35" fill="#000"/>
<circle cx="384.80" cy="122.20" r="1.35" fill="#000"/>
<circle cx="385.40" cy="160.80" r="1.35" fill="#000"/>
<circle cx="398.50" cy="38.10" r="1.35" fill="#000"/>
<circle cx="399.20" cy="40.30" r="1.35" fill="#000"/>
<circle cx="398.50" cy="53.80" r="1.35" fill="#000"/>
<circle cx="398.50" cy="58.90" r="1.35" fill="#000"/>
<circle cx="398.00" cy="62.00" r="1.35" fill="#000"/>
<circle cx="399.70" cy="63.80" r="1.35" fill="#000"/>
<circle cx="399.00" cy="71.30" r="1.35" fill="#000"/>
<circle cx="399.70" cy="86.00" r="1.35" fill="#000"/>
<circle cx="398.50" cy="88.80" r="1.35" fill="#000"/>
<circle cx="398.00" cy="92.80" r="1.35" fill="#000"/>
<circle cx="398.50" cy="106.30" r="1.35" fill="#000"/>
<circle cx="419.20" cy="61.80" r="1.35" fill="#000"/>
<circle cx="420.00" cy="77.90" r="1.35" fill="#000"/>
<circle cx="419.20" cy="88.80" r="1.35" fill="#000"/>
<circle cx="420.40" cy="92.50" r="1.35" fill="#000"/>
<circle cx="421.00" cy="99.20" r="1.35" fill="#000"/>
<circle cx="419.20" cy="103.40" r="1.35" fill="#000"/>
<circle cx="417.40" cy="104.70" r="1.35" fill="#000"/>
<circle cx="418.40" cy="109.30" r="1.35" fill="#000"/>
<circle cx="420.00" cy="110.50" r="1.35" fill="#000"/>
<circle cx="418.00" cy="131.60" r="1.35" fill="#000"/>
<circle cx="420.20" cy="144.70" r="1.35" fill="#000"/>
<circle cx="418.20" cy="170.80" r="1.35" fill="#000"/>
<circle cx="418.00" cy="179.20" r="1.35" fill="#000"/>
<circle cx="432.40" cy="54.50" r="1.35" fill="#000"/>
<circle cx="428.40" cy="62.40" r="1.35" fill="#000"/>
<circle cx="434.50" cy="64.80" r="1.35" fill="#000"/>
<circle cx="432.40" cy="79.30" r="1.35" fill="#000"/>
<circle cx="432.40" cy="81.70" r="1.35" fill="#000"/>
<circle cx="433.60" cy="85.10" r="1.35" fill="#000"/>
<circle cx="432.40" cy="89.80" r="1.35" fill="#000"/>
<circle cx="432.40" cy="100.40" r="1.35" fill="#000"/>
<circle cx="435.80" cy="121.50" r="1.35" fill="#000"/>
<circle cx="454.50" cy="124.50" r="1.35" fill="#000"/>
<circle cx="453.50" cy="133.70" r="1.35" fill="#000"/>
<circle cx="453.90" cy="144.40" r="1.35" fill="#000"/>
<circle cx="453.90" cy="100.30" r="1.35" fill="#000"/>
<circle cx="466.70" cy="49.00" r="1.35" fill="#000"/>
<circle cx="466.70" cy="112.30" r="1.35" fill="#000"/>
<circle cx="467.30" cy="120.30" r="1.35" fill="#000"/>
<circle cx="467.00" cy="138.40" r="1.35" fill="#000"/>
<circle cx="488.70" cy="69.40" r="1.35" fill="#000"/>
<circle cx="488.70" cy="85.40" r="1.35" fill="#000"/>
<circle cx="488.70" cy="99.60" r="1.35" fill="#000"/>
<circle cx="488.70" cy="115.30" r="1.35" fill="#000"/>
<circle cx="488.70" cy="128.40" r="1.35" fill="#000"/>
<circle cx="488.90" cy="143.70" r="1.35" fill="#000"/>
<circle cx="488.70" cy="179.30" r="1.35" fill="#000"/>
<circle cx="502.40" cy="38.80" r="1.35" fill="#000"/>
<circle cx="502.40" cy="50.50" r="1.35" fill="#000"/>
<circle cx="501.30" cy="72.50" r="1.35" fill="#000"/>
<circle cx="501.30" cy="74.00" r="1.35" fill="#000"/>
<circle cx="502.40" cy="90.40" r="1.35" fill="#000"/>
<circle cx="500.00" cy="107.40" r="1.35" fill="#000"/>
<circle cx="502.40" cy="113.30" r="1.35" fill="#000"/>
<circle cx="500.60" cy="123.20" r="1.35" fill="#000"/>
<circle cx="500.60" cy="156.60" r="1.35" fill="#000"/>
<circle cx="380.20" cy="169.70" r="1.75" fill="#4f8f5a"/>
<text x="384.80" y="172.36" font-size="7.6" text-anchor="start" stroke="#1a1a1a" stroke-width="0.15">R</text>
<circle cx="380.20" cy="178.10" r="1.75" fill="#d69c48"/>
<text x="384.80" y="180.76" font-size="7.6" text-anchor="start" stroke="#1a1a1a" stroke-width="0.15">NR</text>
<rect x="20.50" y="245.50" width="239.50" height="112.30" fill="none" stroke="#64b86a" stroke-width="1.2"/>
<rect x="267.60" y="245.50" width="238.90" height="112.40" fill="none" stroke="#4a7db0" stroke-width="1.2"/>
<rect x="20.50" y="398.30" width="239.50" height="111.90" fill="none" stroke="#f4b66c" stroke-width="1.2"/>
<rect x="267.60" y="398.10" width="238.90" height="111.90" fill="none" stroke="#a474ba" stroke-width="1.2"/>
<text x="0" y="0" font-size="10.8" font-weight="bold" fill="#000" stroke="#000" stroke-width="0.4" transform="translate(7.40 238.30) scale(1.06 1)">C</text>
<text x="0" y="0" font-size="10.8" font-weight="bold" fill="#000" stroke="#000" stroke-width="0.4" transform="translate(6.90 390.60) scale(1.06 1)">D</text>
<text x="122.38" y="240.29" font-size="7.7" text-anchor="start" stroke="#1a1a1a" stroke-width="0.12">CR</text>
<line x1="136.50" y1="237.90" x2="141.50" y2="237.90" stroke="#222" stroke-width="0.65"/>
<polygon points="143.50,237.90 140.90,236.30 140.90,239.50" fill="#222"/>
<text x="146.50" y="240.29" font-size="7.7" text-anchor="start" stroke="#1a1a1a" stroke-width="0.12">CR</text>
<text x="369.99" y="239.79" font-size="7.7" text-anchor="start" stroke="#1a1a1a" stroke-width="0.12">PR</text>
<line x1="383.69" y1="237.40" x2="388.69" y2="237.40" stroke="#222" stroke-width="0.65"/>
<polygon points="390.69,237.40 388.09,235.80 388.09,239.00" fill="#222"/>
<text x="393.69" y="239.79" font-size="7.7" text-anchor="start" stroke="#1a1a1a" stroke-width="0.12">CR</text>
<text x="123.00" y="392.50" font-size="7.7" text-anchor="start" stroke="#1a1a1a" stroke-width="0.12">PD</text>
<line x1="136.70" y1="390.10" x2="141.70" y2="390.10" stroke="#222" stroke-width="0.65"/>
<polygon points="143.70,390.10 141.10,388.50 141.10,391.70" fill="#222"/>
<text x="146.70" y="392.50" font-size="7.7" text-anchor="start" stroke="#1a1a1a" stroke-width="0.12">PD</text>
<text x="369.99" y="392.30" font-size="7.7" text-anchor="start" stroke="#1a1a1a" stroke-width="0.12">CR</text>
<line x1="384.11" y1="389.90" x2="389.11" y2="389.90" stroke="#222" stroke-width="0.65"/>
<polygon points="391.11,389.90 388.51,388.30 388.51,391.50" fill="#222"/>
<text x="394.11" y="392.30" font-size="7.7" text-anchor="start" stroke="#1a1a1a" stroke-width="0.12">PD</text>
<text x="14.30" y="302.20" font-size="8" text-anchor="middle" stroke="#1a1a1a" stroke-width="0.26" textLength="63.70" lengthAdjust="spacingAndGlyphs" transform="rotate(-90 14.30 302.20)">Tumor fraction (ppm)</text>
<text x="14.10" y="454.30" font-size="8" text-anchor="middle" stroke="#1a1a1a" stroke-width="0.26" textLength="63.70" lengthAdjust="spacingAndGlyphs" transform="rotate(-90 14.10 454.30)">Tumor fraction (ppm)</text>
<line x1="42.40" y1="261.50" x2="42.40" y2="342.20" stroke="#1a1a1a" stroke-width="1.1"/>
<line x1="41.90" y1="342.20" x2="135.50" y2="342.20" stroke="#1a1a1a" stroke-width="1.1"/>
<line x1="38.80" y1="264.00" x2="42.40" y2="264.00" stroke="#1a1a1a" stroke-width="0.9"/>
<text x="36.50" y="266.31" font-size="6.6" text-anchor="end" stroke="#1a1a1a" stroke-width="0.06">1M</text>
<line x1="38.80" y1="273.22" x2="42.40" y2="273.22" stroke="#1a1a1a" stroke-width="0.9"/>
<text x="36.50" y="275.53" font-size="6.6" text-anchor="end" stroke="#1a1a1a" stroke-width="0.06">100k</text>
<line x1="38.80" y1="282.44" x2="42.40" y2="282.44" stroke="#1a1a1a" stroke-width="0.9"/>
<text x="36.50" y="284.75" font-size="6.6" text-anchor="end" stroke="#1a1a1a" stroke-width="0.06">10k</text>
<line x1="38.80" y1="291.66" x2="42.40" y2="291.66" stroke="#1a1a1a" stroke-width="0.9"/>
<text x="36.50" y="293.97" font-size="6.6" text-anchor="end" stroke="#1a1a1a" stroke-width="0.06">1k</text>
<line x1="38.80" y1="300.88" x2="42.40" y2="300.88" stroke="#1a1a1a" stroke-width="0.9"/>
<text x="36.50" y="303.19" font-size="6.6" text-anchor="end" stroke="#1a1a1a" stroke-width="0.06">100</text>
<line x1="38.80" y1="310.10" x2="42.40" y2="310.10" stroke="#1a1a1a" stroke-width="0.9"/>
<text x="36.50" y="312.41" font-size="6.6" text-anchor="end" stroke="#1a1a1a" stroke-width="0.06">10</text>
<line x1="38.80" y1="319.32" x2="42.40" y2="319.32" stroke="#1a1a1a" stroke-width="0.9"/>
<text x="36.50" y="321.63" font-size="6.6" text-anchor="end" stroke="#1a1a1a" stroke-width="0.06">1</text>
<line x1="38.80" y1="328.54" x2="42.40" y2="328.54" stroke="#1a1a1a" stroke-width="0.9"/>
<text x="36.50" y="330.85" font-size="6.6" text-anchor="end" stroke="#1a1a1a" stroke-width="0.06">0.1</text>
<line x1="38.80" y1="337.76" x2="42.40" y2="337.76" stroke="#1a1a1a" stroke-width="0.9"/>
<text x="36.50" y="340.07" font-size="6.6" text-anchor="end" stroke="#1a1a1a" stroke-width="0.06">0</text>
<line x1="46.60" y1="342.20" x2="46.60" y2="345.20" stroke="#1a1a1a" stroke-width="0.9"/>
<text x="46.60" y="354.91" font-size="6.6" text-anchor="middle" stroke="#1a1a1a" stroke-width="0.06">0</text>
<line x1="70.20" y1="342.20" x2="70.20" y2="345.20" stroke="#1a1a1a" stroke-width="0.9"/>
<text x="70.20" y="354.91" font-size="6.6" text-anchor="middle" stroke="#1a1a1a" stroke-width="0.06">100</text>
<line x1="93.80" y1="342.20" x2="93.80" y2="345.20" stroke="#1a1a1a" stroke-width="0.9"/>
<text x="93.80" y="354.91" font-size="6.6" text-anchor="middle" stroke="#1a1a1a" stroke-width="0.06">200</text>
<line x1="117.40" y1="342.20" x2="117.40" y2="345.20" stroke="#1a1a1a" stroke-width="0.9"/>
<text x="117.40" y="354.91" font-size="6.6" text-anchor="middle" stroke="#1a1a1a" stroke-width="0.06">300</text>
<text x="89.00" y="258.96" font-size="7.9" text-anchor="middle" stroke="#1a1a1a" stroke-width="0.15">R02</text>
<polyline points="46.20,292.30 48.50,301.20 49.80,338.00 55.10,338.00 67.80,338.00 89.40,338.00 132.30,338.00" fill="none" stroke="#1c4468" stroke-width="1.25" stroke-linejoin="round"/>
<circle cx="46.20" cy="292.30" r="1.95" fill="#1c4468"/>
<circle cx="48.50" cy="301.20" r="1.95" fill="#1c4468"/>
<circle cx="49.80" cy="338.00" r="1.95" fill="#1c4468"/>
<circle cx="55.10" cy="338.00" r="1.95" fill="#1c4468"/>
<circle cx="67.80" cy="338.00" r="1.95" fill="#1c4468"/>
<circle cx="89.40" cy="338.00" r="1.95" fill="#1c4468"/>
<circle cx="132.30" cy="338.00" r="1.95" fill="#1c4468"/>
<line x1="160.60" y1="261.50" x2="160.60" y2="342.20" stroke="#1a1a1a" stroke-width="1.1"/>
<line x1="160.10" y1="342.20" x2="253.80" y2="342.20" stroke="#1a1a1a" stroke-width="1.1"/>
<line x1="157.00" y1="264.00" x2="160.60" y2="264.00" stroke="#1a1a1a" stroke-width="0.9"/>
<text x="154.70" y="266.31" font-size="6.6" text-anchor="end" stroke="#1a1a1a" stroke-width="0.06">1M</text>
<line x1="157.00" y1="273.22" x2="160.60" y2="273.22" stroke="#1a1a1a" stroke-width="0.9"/>
<text x="154.70" y="275.53" font-size="6.6" text-anchor="end" stroke="#1a1a1a" stroke-width="0.06">100k</text>
<line x1="157.00" y1="282.44" x2="160.60" y2="282.44" stroke="#1a1a1a" stroke-width="0.9"/>
<text x="154.70" y="284.75" font-size="6.6" text-anchor="end" stroke="#1a1a1a" stroke-width="0.06">10k</text>
<line x1="157.00" y1="291.66" x2="160.60" y2="291.66" stroke="#1a1a1a" stroke-width="0.9"/>
<text x="154.70" y="293.97" font-size="6.6" text-anchor="end" stroke="#1a1a1a" stroke-width="0.06">1k</text>
<line x1="157.00" y1="300.88" x2="160.60" y2="300.88" stroke="#1a1a1a" stroke-width="0.9"/>
<text x="154.70" y="303.19" font-size="6.6" text-anchor="end" stroke="#1a1a1a" stroke-width="0.06">100</text>
<line x1="157.00" y1="310.10" x2="160.60" y2="310.10" stroke="#1a1a1a" stroke-width="0.9"/>
<text x="154.70" y="312.41" font-size="6.6" text-anchor="end" stroke="#1a1a1a" stroke-width="0.06">10</text>
<line x1="157.00" y1="319.32" x2="160.60" y2="319.32" stroke="#1a1a1a" stroke-width="0.9"/>
<text x="154.70" y="321.63" font-size="6.6" text-anchor="end" stroke="#1a1a1a" stroke-width="0.06">1</text>
<line x1="157.00" y1="328.54" x2="160.60" y2="328.54" stroke="#1a1a1a" stroke-width="0.9"/>
<text x="154.70" y="330.85" font-size="6.6" text-anchor="end" stroke="#1a1a1a" stroke-width="0.06">0.1</text>
<line x1="157.00" y1="337.76" x2="160.60" y2="337.76" stroke="#1a1a1a" stroke-width="0.9"/>
<text x="154.70" y="340.07" font-size="6.6" text-anchor="end" stroke="#1a1a1a" stroke-width="0.06">0</text>
<line x1="164.30" y1="342.20" x2="164.30" y2="345.20" stroke="#1a1a1a" stroke-width="0.9"/>
<text x="164.30" y="354.91" font-size="6.6" text-anchor="middle" stroke="#1a1a1a" stroke-width="0.06">0</text>
<line x1="194.70" y1="342.20" x2="194.70" y2="345.20" stroke="#1a1a1a" stroke-width="0.9"/>
<text x="194.70" y="354.91" font-size="6.6" text-anchor="middle" stroke="#1a1a1a" stroke-width="0.06">10</text>
<line x1="225.00" y1="342.20" x2="225.00" y2="345.20" stroke="#1a1a1a" stroke-width="0.9"/>
<text x="225.00" y="354.91" font-size="6.6" text-anchor="middle" stroke="#1a1a1a" stroke-width="0.06">20</text>
<text x="207.10" y="258.56" font-size="7.9" text-anchor="middle" stroke="#1a1a1a" stroke-width="0.15">R05</text>
<polyline points="164.30,292.70 185.80,338.20 207.20,338.20 228.50,338.20 250.00,338.20" fill="none" stroke="#1c4468" stroke-width="1.25" stroke-linejoin="round"/>
<circle cx="164.30" cy="292.70" r="1.95" fill="#1c4468"/>
<circle cx="185.80" cy="338.20" r="1.95" fill="#1c4468"/>
<circle cx="207.20" cy="338.20" r="1.95" fill="#1c4468"/>
<circle cx="228.50" cy="338.20" r="1.95" fill="#1c4468"/>
<circle cx="250.00" cy="338.20" r="1.95" fill="#1c4468"/>
<line x1="290.00" y1="261.50" x2="290.00" y2="341.50" stroke="#1a1a1a" stroke-width="1.1"/>
<line x1="289.50" y1="341.50" x2="383.80" y2="341.50" stroke="#1a1a1a" stroke-width="1.1"/>
<line x1="286.40" y1="264.00" x2="290.00" y2="264.00" stroke="#1a1a1a" stroke-width="0.9"/>
<text x="284.10" y="266.31" font-size="6.6" text-anchor="end" stroke="#1a1a1a" stroke-width="0.06">1M</text>
<line x1="286.40" y1="273.22" x2="290.00" y2="273.22" stroke="#1a1a1a" stroke-width="0.9"/>
<text x="284.10" y="275.53" font-size="6.6" text-anchor="end" stroke="#1a1a1a" stroke-width="0.06">100k</text>
<line x1="286.40" y1="282.44" x2="290.00" y2="282.44" stroke="#1a1a1a" stroke-width="0.9"/>
<text x="284.10" y="284.75" font-size="6.6" text-anchor="end" stroke="#1a1a1a" stroke-width="0.06">10k</text>
<line x1="286.40" y1="291.66" x2="290.00" y2="291.66" stroke="#1a1a1a" stroke-width="0.9"/>
<text x="284.10" y="293.97" font-size="6.6" text-anchor="end" stroke="#1a1a1a" stroke-width="0.06">1k</text>
<line x1="286.40" y1="300.88" x2="290.00" y2="300.88" stroke="#1a1a1a" stroke-width="0.9"/>
<text x="284.10" y="303.19" font-size="6.6" text-anchor="end" stroke="#1a1a1a" stroke-width="0.06">100</text>
<line x1="286.40" y1="310.10" x2="290.00" y2="310.10" stroke="#1a1a1a" stroke-width="0.9"/>
<text x="284.10" y="312.41" font-size="6.6" text-anchor="end" stroke="#1a1a1a" stroke-width="0.06">10</text>
<line x1="286.40" y1="319.32" x2="290.00" y2="319.32" stroke="#1a1a1a" stroke-width="0.9"/>
<text x="284.10" y="321.63" font-size="6.6" text-anchor="end" stroke="#1a1a1a" stroke-width="0.06">1</text>
<line x1="286.40" y1="328.54" x2="290.00" y2="328.54" stroke="#1a1a1a" stroke-width="0.9"/>
<text x="284.10" y="330.85" font-size="6.6" text-anchor="end" stroke="#1a1a1a" stroke-width="0.06">0.1</text>
<line x1="286.40" y1="337.76" x2="290.00" y2="337.76" stroke="#1a1a1a" stroke-width="0.9"/>
<text x="284.10" y="340.07" font-size="6.6" text-anchor="end" stroke="#1a1a1a" stroke-width="0.06">0</text>
<line x1="293.80" y1="341.50" x2="293.80" y2="344.50" stroke="#1a1a1a" stroke-width="0.9"/>
<text x="293.80" y="354.21" font-size="6.6" text-anchor="middle" stroke="#1a1a1a" stroke-width="0.06">0</text>
<line x1="324.40" y1="341.50" x2="324.40" y2="344.50" stroke="#1a1a1a" stroke-width="0.9"/>
<text x="324.40" y="354.21" font-size="6.6" text-anchor="middle" stroke="#1a1a1a" stroke-width="0.06">10</text>
<line x1="355.00" y1="341.50" x2="355.00" y2="344.50" stroke="#1a1a1a" stroke-width="0.9"/>
<text x="355.00" y="354.21" font-size="6.6" text-anchor="middle" stroke="#1a1a1a" stroke-width="0.06">20</text>
<text x="336.90" y="258.96" font-size="7.9" text-anchor="middle" stroke="#1a1a1a" stroke-width="0.15">R03</text>
<polyline points="293.60,295.80 315.00,303.00 336.80,300.00 380.00,338.20" fill="none" stroke="#1c4468" stroke-width="1.25" stroke-linejoin="round"/>
<circle cx="293.60" cy="295.80" r="1.95" fill="#1c4468"/>
<circle cx="315.00" cy="303.00" r="1.95" fill="#1c4468"/>
<circle cx="336.80" cy="300.00" r="1.95" fill="#1c4468"/>
<circle cx="380.00" cy="338.20" r="1.95" fill="#1c4468"/>
<line x1="407.00" y1="261.50" x2="407.00" y2="341.90" stroke="#1a1a1a" stroke-width="1.1"/>
<line x1="406.50" y1="341.90" x2="501.20" y2="341.90" stroke="#1a1a1a" stroke-width="1.1"/>
<line x1="403.40" y1="264.00" x2="407.00" y2="264.00" stroke="#1a1a1a" stroke-width="0.9"/>
<text x="401.10" y="266.31" font-size="6.6" text-anchor="end" stroke="#1a1a1a" stroke-width="0.06">1M</text>
<line x1="403.40" y1="273.22" x2="407.00" y2="273.22" stroke="#1a1a1a" stroke-width="0.9"/>
<text x="401.10" y="275.53" font-size="6.6" text-anchor="end" stroke="#1a1a1a" stroke-width="0.06">100k</text>
<line x1="403.40" y1="282.44" x2="407.00" y2="282.44" stroke="#1a1a1a" stroke-width="0.9"/>
<text x="401.10" y="284.75" font-size="6.6" text-anchor="end" stroke="#1a1a1a" stroke-width="0.06">10k</text>
<line x1="403.40" y1="291.66" x2="407.00" y2="291.66" stroke="#1a1a1a" stroke-width="0.9"/>
<text x="401.10" y="293.97" font-size="6.6" text-anchor="end" stroke="#1a1a1a" stroke-width="0.06">1k</text>
<line x1="403.40" y1="300.88" x2="407.00" y2="300.88" stroke="#1a1a1a" stroke-width="0.9"/>
<text x="401.10" y="303.19" font-size="6.6" text-anchor="end" stroke="#1a1a1a" stroke-width="0.06">100</text>
<line x1="403.40" y1="310.10" x2="407.00" y2="310.10" stroke="#1a1a1a" stroke-width="0.9"/>
<text x="401.10" y="312.41" font-size="6.6" text-anchor="end" stroke="#1a1a1a" stroke-width="0.06">10</text>
<line x1="403.40" y1="319.32" x2="407.00" y2="319.32" stroke="#1a1a1a" stroke-width="0.9"/>
<text x="401.10" y="321.63" font-size="6.6" text-anchor="end" stroke="#1a1a1a" stroke-width="0.06">1</text>
<line x1="403.40" y1="328.54" x2="407.00" y2="328.54" stroke="#1a1a1a" stroke-width="0.9"/>
<text x="401.10" y="330.85" font-size="6.6" text-anchor="end" stroke="#1a1a1a" stroke-width="0.06">0.1</text>
<line x1="403.40" y1="337.76" x2="407.00" y2="337.76" stroke="#1a1a1a" stroke-width="0.9"/>
<text x="401.10" y="340.07" font-size="6.6" text-anchor="end" stroke="#1a1a1a" stroke-width="0.06">0</text>
<line x1="411.80" y1="341.90" x2="411.80" y2="344.90" stroke="#1a1a1a" stroke-width="0.9"/>
<text x="411.80" y="354.61" font-size="6.6" text-anchor="middle" stroke="#1a1a1a" stroke-width="0.06">0</text>
<line x1="443.80" y1="341.90" x2="443.80" y2="344.90" stroke="#1a1a1a" stroke-width="0.9"/>
<text x="443.80" y="354.61" font-size="6.6" text-anchor="middle" stroke="#1a1a1a" stroke-width="0.06">100</text>
<line x1="475.80" y1="341.90" x2="475.80" y2="344.90" stroke="#1a1a1a" stroke-width="0.9"/>
<text x="475.80" y="354.61" font-size="6.6" text-anchor="middle" stroke="#1a1a1a" stroke-width="0.06">200</text>
<text x="454.50" y="258.76" font-size="7.9" text-anchor="middle" stroke="#1a1a1a" stroke-width="0.15">R14</text>
<polyline points="411.80,280.20 414.50,282.30 418.50,299.70 440.60,337.90 468.90,337.90 497.70,337.90" fill="none" stroke="#1c4468" stroke-width="1.25" stroke-linejoin="round"/>
<circle cx="411.80" cy="280.20" r="1.95" fill="#1c4468"/>
<circle cx="414.50" cy="282.30" r="1.95" fill="#1c4468"/>
<circle cx="418.50" cy="299.70" r="1.95" fill="#1c4468"/>
<circle cx="440.60" cy="337.90" r="1.95" fill="#1c4468"/>
<circle cx="468.90" cy="337.90" r="1.95" fill="#1c4468"/>
<circle cx="497.70" cy="337.90" r="1.95" fill="#1c4468"/>
<line x1="43.00" y1="413.80" x2="43.00" y2="494.50" stroke="#1a1a1a" stroke-width="1.1"/>
<line x1="42.50" y1="494.50" x2="136.40" y2="494.50" stroke="#1a1a1a" stroke-width="1.1"/>
<line x1="39.40" y1="416.30" x2="43.00" y2="416.30" stroke="#1a1a1a" stroke-width="0.9"/>
<text x="37.10" y="418.61" font-size="6.6" text-anchor="end" stroke="#1a1a1a" stroke-width="0.06">1M</text>
<line x1="39.40" y1="425.61" x2="43.00" y2="425.61" stroke="#1a1a1a" stroke-width="0.9"/>
<text x="37.10" y="427.92" font-size="6.6" text-anchor="end" stroke="#1a1a1a" stroke-width="0.06">100k</text>
<line x1="39.40" y1="434.92" x2="43.00" y2="434.92" stroke="#1a1a1a" stroke-width="0.9"/>
<text x="37.10" y="437.23" font-size="6.6" text-anchor="end" stroke="#1a1a1a" stroke-width="0.06">10k</text>
<line x1="39.40" y1="444.23" x2="43.00" y2="444.23" stroke="#1a1a1a" stroke-width="0.9"/>
<text x="37.10" y="446.54" font-size="6.6" text-anchor="end" stroke="#1a1a1a" stroke-width="0.06">1k</text>
<line x1="39.40" y1="453.54" x2="43.00" y2="453.54" stroke="#1a1a1a" stroke-width="0.9"/>
<text x="37.10" y="455.85" font-size="6.6" text-anchor="end" stroke="#1a1a1a" stroke-width="0.06">100</text>
<line x1="39.40" y1="462.85" x2="43.00" y2="462.85" stroke="#1a1a1a" stroke-width="0.9"/>
<text x="37.10" y="465.16" font-size="6.6" text-anchor="end" stroke="#1a1a1a" stroke-width="0.06">10</text>
<line x1="39.40" y1="472.16" x2="43.00" y2="472.16" stroke="#1a1a1a" stroke-width="0.9"/>
<text x="37.10" y="474.47" font-size="6.6" text-anchor="end" stroke="#1a1a1a" stroke-width="0.06">1</text>
<line x1="39.40" y1="481.47" x2="43.00" y2="481.47" stroke="#1a1a1a" stroke-width="0.9"/>
<text x="37.10" y="483.78" font-size="6.6" text-anchor="end" stroke="#1a1a1a" stroke-width="0.06">0.1</text>
<line x1="39.40" y1="490.78" x2="43.00" y2="490.78" stroke="#1a1a1a" stroke-width="0.9"/>
<text x="37.10" y="493.09" font-size="6.6" text-anchor="end" stroke="#1a1a1a" stroke-width="0.06">0</text>
<line x1="46.40" y1="494.50" x2="46.40" y2="497.50" stroke="#1a1a1a" stroke-width="0.9"/>
<text x="46.40" y="507.21" font-size="6.6" text-anchor="middle" stroke="#1a1a1a" stroke-width="0.06">0</text>
<line x1="77.20" y1="494.50" x2="77.20" y2="497.50" stroke="#1a1a1a" stroke-width="0.9"/>
<text x="77.20" y="507.21" font-size="6.6" text-anchor="middle" stroke="#1a1a1a" stroke-width="0.06">10</text>
<line x1="107.80" y1="494.50" x2="107.80" y2="497.50" stroke="#1a1a1a" stroke-width="0.9"/>
<text x="107.80" y="507.21" font-size="6.6" text-anchor="middle" stroke="#1a1a1a" stroke-width="0.06">20</text>
<text x="89.40" y="410.26" font-size="7.9" text-anchor="middle" stroke="#1a1a1a" stroke-width="0.15">NR03</text>
<polyline points="46.70,441.70 68.00,427.50 89.20,442.20 131.50,438.50" fill="none" stroke="#1c4468" stroke-width="1.25" stroke-linejoin="round"/>
<circle cx="46.70" cy="441.70" r="1.95" fill="#1c4468"/>
<circle cx="68.00" cy="427.50" r="1.95" fill="#1c4468"/>
<circle cx="89.20" cy="442.20" r="1.95" fill="#1c4468"/>
<circle cx="131.50" cy="438.50" r="1.95" fill="#1c4468"/>
<line x1="159.50" y1="413.80" x2="159.50" y2="494.50" stroke="#1a1a1a" stroke-width="1.1"/>
<line x1="159.00" y1="494.50" x2="254.10" y2="494.50" stroke="#1a1a1a" stroke-width="1.1"/>
<line x1="155.90" y1="416.30" x2="159.50" y2="416.30" stroke="#1a1a1a" stroke-width="0.9"/>
<text x="153.60" y="418.61" font-size="6.6" text-anchor="end" stroke="#1a1a1a" stroke-width="0.06">1M</text>
<line x1="155.90" y1="425.61" x2="159.50" y2="425.61" stroke="#1a1a1a" stroke-width="0.9"/>
<text x="153.60" y="427.92" font-size="6.6" text-anchor="end" stroke="#1a1a1a" stroke-width="0.06">100k</text>
<line x1="155.90" y1="434.92" x2="159.50" y2="434.92" stroke="#1a1a1a" stroke-width="0.9"/>
<text x="153.60" y="437.23" font-size="6.6" text-anchor="end" stroke="#1a1a1a" stroke-width="0.06">10k</text>
<line x1="155.90" y1="444.23" x2="159.50" y2="444.23" stroke="#1a1a1a" stroke-width="0.9"/>
<text x="153.60" y="446.54" font-size="6.6" text-anchor="end" stroke="#1a1a1a" stroke-width="0.06">1k</text>
<line x1="155.90" y1="453.54" x2="159.50" y2="453.54" stroke="#1a1a1a" stroke-width="0.9"/>
<text x="153.60" y="455.85" font-size="6.6" text-anchor="end" stroke="#1a1a1a" stroke-width="0.06">100</text>
<line x1="155.90" y1="462.85" x2="159.50" y2="462.85" stroke="#1a1a1a" stroke-width="0.9"/>
<text x="153.60" y="465.16" font-size="6.6" text-anchor="end" stroke="#1a1a1a" stroke-width="0.06">10</text>
<line x1="155.90" y1="472.16" x2="159.50" y2="472.16" stroke="#1a1a1a" stroke-width="0.9"/>
<text x="153.60" y="474.47" font-size="6.6" text-anchor="end" stroke="#1a1a1a" stroke-width="0.06">1</text>
<line x1="155.90" y1="481.47" x2="159.50" y2="481.47" stroke="#1a1a1a" stroke-width="0.9"/>
<text x="153.60" y="483.78" font-size="6.6" text-anchor="end" stroke="#1a1a1a" stroke-width="0.06">0.1</text>
<line x1="155.90" y1="490.78" x2="159.50" y2="490.78" stroke="#1a1a1a" stroke-width="0.9"/>
<text x="153.60" y="493.09" font-size="6.6" text-anchor="end" stroke="#1a1a1a" stroke-width="0.06">0</text>
<line x1="163.80" y1="494.50" x2="163.80" y2="497.50" stroke="#1a1a1a" stroke-width="0.9"/>
<text x="163.80" y="507.21" font-size="6.6" text-anchor="middle" stroke="#1a1a1a" stroke-width="0.06">0</text>
<line x1="194.60" y1="494.50" x2="194.60" y2="497.50" stroke="#1a1a1a" stroke-width="0.9"/>
<text x="194.60" y="507.21" font-size="6.6" text-anchor="middle" stroke="#1a1a1a" stroke-width="0.06">10</text>
<line x1="225.40" y1="494.50" x2="225.40" y2="497.50" stroke="#1a1a1a" stroke-width="0.9"/>
<text x="225.40" y="507.21" font-size="6.6" text-anchor="middle" stroke="#1a1a1a" stroke-width="0.06">20</text>
<text x="207.20" y="410.96" font-size="7.9" text-anchor="middle" stroke="#1a1a1a" stroke-width="0.15">NR06</text>
<polyline points="163.80,451.00 185.80,441.30 207.10,441.90 228.20,439.90 250.40,440.80" fill="none" stroke="#1c4468" stroke-width="1.25" stroke-linejoin="round"/>
<circle cx="163.80" cy="451.00" r="1.95" fill="#1c4468"/>
<circle cx="185.80" cy="441.30" r="1.95" fill="#1c4468"/>
<circle cx="207.10" cy="441.90" r="1.95" fill="#1c4468"/>
<circle cx="228.20" cy="439.90" r="1.95" fill="#1c4468"/>
<circle cx="250.40" cy="440.80" r="1.95" fill="#1c4468"/>
<line x1="290.00" y1="413.80" x2="290.00" y2="494.50" stroke="#1a1a1a" stroke-width="1.1"/>
<line x1="289.50" y1="494.50" x2="383.30" y2="494.50" stroke="#1a1a1a" stroke-width="1.1"/>
<line x1="286.40" y1="416.30" x2="290.00" y2="416.30" stroke="#1a1a1a" stroke-width="0.9"/>
<text x="284.10" y="418.61" font-size="6.6" text-anchor="end" stroke="#1a1a1a" stroke-width="0.06">1M</text>
<line x1="286.40" y1="425.61" x2="290.00" y2="425.61" stroke="#1a1a1a" stroke-width="0.9"/>
<text x="284.10" y="427.92" font-size="6.6" text-anchor="end" stroke="#1a1a1a" stroke-width="0.06">100k</text>
<line x1="286.40" y1="434.92" x2="290.00" y2="434.92" stroke="#1a1a1a" stroke-width="0.9"/>
<text x="284.10" y="437.23" font-size="6.6" text-anchor="end" stroke="#1a1a1a" stroke-width="0.06">10k</text>
<line x1="286.40" y1="444.23" x2="290.00" y2="444.23" stroke="#1a1a1a" stroke-width="0.9"/>
<text x="284.10" y="446.54" font-size="6.6" text-anchor="end" stroke="#1a1a1a" stroke-width="0.06">1k</text>
<line x1="286.40" y1="453.54" x2="290.00" y2="453.54" stroke="#1a1a1a" stroke-width="0.9"/>
<text x="284.10" y="455.85" font-size="6.6" text-anchor="end" stroke="#1a1a1a" stroke-width="0.06">100</text>
<line x1="286.40" y1="462.85" x2="290.00" y2="462.85" stroke="#1a1a1a" stroke-width="0.9"/>
<text x="284.10" y="465.16" font-size="6.6" text-anchor="end" stroke="#1a1a1a" stroke-width="0.06">10</text>
<line x1="286.40" y1="472.16" x2="290.00" y2="472.16" stroke="#1a1a1a" stroke-width="0.9"/>
<text x="284.10" y="474.47" font-size="6.6" text-anchor="end" stroke="#1a1a1a" stroke-width="0.06">1</text>
<line x1="286.40" y1="481.47" x2="290.00" y2="481.47" stroke="#1a1a1a" stroke-width="0.9"/>
<text x="284.10" y="483.78" font-size="6.6" text-anchor="end" stroke="#1a1a1a" stroke-width="0.06">0.1</text>
<line x1="286.40" y1="490.78" x2="290.00" y2="490.78" stroke="#1a1a1a" stroke-width="0.9"/>
<text x="284.10" y="493.09" font-size="6.6" text-anchor="end" stroke="#1a1a1a" stroke-width="0.06">0</text>
<line x1="294.20" y1="494.50" x2="294.20" y2="497.50" stroke="#1a1a1a" stroke-width="0.9"/>
<text x="294.20" y="507.21" font-size="6.6" text-anchor="middle" stroke="#1a1a1a" stroke-width="0.06">0</text>
<line x1="318.00" y1="494.50" x2="318.00" y2="497.50" stroke="#1a1a1a" stroke-width="0.9"/>
<text x="318.00" y="507.21" font-size="6.6" text-anchor="middle" stroke="#1a1a1a" stroke-width="0.06">100</text>
<line x1="341.80" y1="494.50" x2="341.80" y2="497.50" stroke="#1a1a1a" stroke-width="0.9"/>
<text x="341.80" y="507.21" font-size="6.6" text-anchor="middle" stroke="#1a1a1a" stroke-width="0.06">200</text>
<line x1="365.50" y1="494.50" x2="365.50" y2="497.50" stroke="#1a1a1a" stroke-width="0.9"/>
<text x="365.50" y="507.21" font-size="6.6" text-anchor="middle" stroke="#1a1a1a" stroke-width="0.06">300</text>
<text x="336.90" y="410.26" font-size="7.9" text-anchor="middle" stroke="#1a1a1a" stroke-width="0.15">NR01</text>
<polyline points="293.80,435.00 295.80,432.00 298.00,436.20 300.50,445.00 337.50,426.20 365.00,431.20 380.00,426.70" fill="none" stroke="#1c4468" stroke-width="1.25" stroke-linejoin="round"/>
<circle cx="293.80" cy="435.00" r="1.95" fill="#1c4468"/>
<circle cx="295.80" cy="432.00" r="1.95" fill="#1c4468"/>
<circle cx="298.00" cy="436.20" r="1.95" fill="#1c4468"/>
<circle cx="300.50" cy="445.00" r="1.95" fill="#1c4468"/>
<circle cx="337.50" cy="426.20" r="1.95" fill="#1c4468"/>
<circle cx="365.00" cy="431.20" r="1.95" fill="#1c4468"/>
<circle cx="380.00" cy="426.70" r="1.95" fill="#1c4468"/>
<line x1="406.10" y1="413.80" x2="406.10" y2="495.00" stroke="#1a1a1a" stroke-width="1.1"/>
<line x1="405.60" y1="495.00" x2="501.20" y2="495.00" stroke="#1a1a1a" stroke-width="1.1"/>
<line x1="402.50" y1="416.30" x2="406.10" y2="416.30" stroke="#1a1a1a" stroke-width="0.9"/>
<text x="400.20" y="418.61" font-size="6.6" text-anchor="end" stroke="#1a1a1a" stroke-width="0.06">1M</text>
<line x1="402.50" y1="425.61" x2="406.10" y2="425.61" stroke="#1a1a1a" stroke-width="0.9"/>
<text x="400.20" y="427.92" font-size="6.6" text-anchor="end" stroke="#1a1a1a" stroke-width="0.06">100k</text>
<line x1="402.50" y1="434.92" x2="406.10" y2="434.92" stroke="#1a1a1a" stroke-width="0.9"/>
<text x="400.20" y="437.23" font-size="6.6" text-anchor="end" stroke="#1a1a1a" stroke-width="0.06">10k</text>
<line x1="402.50" y1="444.23" x2="406.10" y2="444.23" stroke="#1a1a1a" stroke-width="0.9"/>
<text x="400.20" y="446.54" font-size="6.6" text-anchor="end" stroke="#1a1a1a" stroke-width="0.06">1k</text>
<line x1="402.50" y1="453.54" x2="406.10" y2="453.54" stroke="#1a1a1a" stroke-width="0.9"/>
<text x="400.20" y="455.85" font-size="6.6" text-anchor="end" stroke="#1a1a1a" stroke-width="0.06">100</text>
<line x1="402.50" y1="462.85" x2="406.10" y2="462.85" stroke="#1a1a1a" stroke-width="0.9"/>
<text x="400.20" y="465.16" font-size="6.6" text-anchor="end" stroke="#1a1a1a" stroke-width="0.06">10</text>
<line x1="402.50" y1="472.16" x2="406.10" y2="472.16" stroke="#1a1a1a" stroke-width="0.9"/>
<text x="400.20" y="474.47" font-size="6.6" text-anchor="end" stroke="#1a1a1a" stroke-width="0.06">1</text>
<line x1="402.50" y1="481.47" x2="406.10" y2="481.47" stroke="#1a1a1a" stroke-width="0.9"/>
<text x="400.20" y="483.78" font-size="6.6" text-anchor="end" stroke="#1a1a1a" stroke-width="0.06">0.1</text>
<line x1="402.50" y1="490.78" x2="406.10" y2="490.78" stroke="#1a1a1a" stroke-width="0.9"/>
<text x="400.20" y="493.09" font-size="6.6" text-anchor="end" stroke="#1a1a1a" stroke-width="0.06">0</text>
<line x1="411.80" y1="495.00" x2="411.80" y2="498.00" stroke="#1a1a1a" stroke-width="0.9"/>
<text x="411.80" y="507.71" font-size="6.6" text-anchor="middle" stroke="#1a1a1a" stroke-width="0.06">0</text>
<line x1="442.20" y1="495.00" x2="442.20" y2="498.00" stroke="#1a1a1a" stroke-width="0.9"/>
<text x="442.20" y="507.71" font-size="6.6" text-anchor="middle" stroke="#1a1a1a" stroke-width="0.06">10</text>
<line x1="472.50" y1="495.00" x2="472.50" y2="498.00" stroke="#1a1a1a" stroke-width="0.9"/>
<text x="472.50" y="507.71" font-size="6.6" text-anchor="middle" stroke="#1a1a1a" stroke-width="0.06">20</text>
<text x="454.70" y="411.46" font-size="7.9" text-anchor="middle" stroke="#1a1a1a" stroke-width="0.15">NR02</text>
<polyline points="411.50,430.20 433.00,432.30 454.00,444.90 496.60,457.50" fill="none" stroke="#1c4468" stroke-width="1.25" stroke-linejoin="round"/>
<circle cx="411.50" cy="430.20" r="1.95" fill="#1c4468"/>
<circle cx="433.00" cy="432.30" r="1.95" fill="#1c4468"/>
<circle cx="454.00" cy="444.90" r="1.95" fill="#1c4468"/>
<circle cx="496.60" cy="457.50" r="1.95" fill="#1c4468"/>
<text x="56.70" y="368.60" font-size="9" text-anchor="middle" stroke="#1a1a1a" stroke-width="0.26" textLength="50.50" lengthAdjust="spacingAndGlyphs">Days from CAR-T</text>
<line x1="87.60" y1="365.30" x2="146.00" y2="365.30" stroke="#111" stroke-width="1.1"/>
<polygon points="151,365.30 144.6,362.90 144.6,367.70" fill="#111"/>
<text x="56.70" y="521.30" font-size="9" text-anchor="middle" stroke="#1a1a1a" stroke-width="0.26" textLength="50.50" lengthAdjust="spacingAndGlyphs">Days from CAR-T</text>
<line x1="87.60" y1="518.00" x2="146.00" y2="518.00" stroke="#111" stroke-width="1.1"/>
<polygon points="151,518.00 144.6,515.60 144.6,520.40" fill="#111"/>
<line x1="412.30" y1="519.00" x2="426.30" y2="519.00" stroke="#1c4468" stroke-width="1.2"/>
<circle cx="419.80" cy="519.00" r="1.9" fill="#1c4468"/>
<text x="429.80" y="521.73" font-size="7.8" text-anchor="start" stroke="#1a1a1a" stroke-width="0.15" textLength="49.20" lengthAdjust="spacingAndGlyphs">Tumor fraction</text>
<line x1="412.30" y1="531.40" x2="426.30" y2="531.40" stroke="#c4c4c4" stroke-width="1.2"/>
<circle cx="419.80" cy="531.40" r="1.9" fill="#c4c4c4"/>
<text x="429.80" y="534.13" font-size="7.8" text-anchor="start" stroke="#1a1a1a" stroke-width="0.15" textLength="16.20" lengthAdjust="spacingAndGlyphs">LOD</text>
<text x="0" y="0" font-size="10.8" font-weight="bold" fill="#000" stroke="#000" stroke-width="0.4" transform="translate(7.60 545.80) scale(1.06 1)">E</text>
<line x1="38.50" y1="550.20" x2="38.50" y2="655.00" stroke="#1a1a1a" stroke-width="1.1"/>
<line x1="38.00" y1="655.00" x2="190.40" y2="655.00" stroke="#1a1a1a" stroke-width="1.1"/>
<line x1="35.00" y1="650.60" x2="38.50" y2="650.60" stroke="#1a1a1a" stroke-width="1"/>
<text x="32.20" y="653.37" font-size="7.9" text-anchor="end" stroke="#1a1a1a" stroke-width="0.15">0.0</text>
<line x1="45.60" y1="655.00" x2="45.60" y2="658.00" stroke="#1a1a1a" stroke-width="1"/>
<text x="45.60" y="668.76" font-size="7.9" text-anchor="middle" stroke="#1a1a1a" stroke-width="0.15">0.0</text>
<line x1="35.00" y1="631.48" x2="38.50" y2="631.48" stroke="#1a1a1a" stroke-width="1"/>
<text x="32.20" y="634.25" font-size="7.9" text-anchor="end" stroke="#1a1a1a" stroke-width="0.15">0.2</text>
<line x1="73.48" y1="655.00" x2="73.48" y2="658.00" stroke="#1a1a1a" stroke-width="1"/>
<text x="73.48" y="668.76" font-size="7.9" text-anchor="middle" stroke="#1a1a1a" stroke-width="0.15">0.2</text>
<line x1="35.00" y1="612.36" x2="38.50" y2="612.36" stroke="#1a1a1a" stroke-width="1"/>
<text x="32.20" y="615.12" font-size="7.9" text-anchor="end" stroke="#1a1a1a" stroke-width="0.15">0.4</text>
<line x1="101.36" y1="655.00" x2="101.36" y2="658.00" stroke="#1a1a1a" stroke-width="1"/>
<text x="101.36" y="668.76" font-size="7.9" text-anchor="middle" stroke="#1a1a1a" stroke-width="0.15">0.4</text>
<line x1="35.00" y1="593.24" x2="38.50" y2="593.24" stroke="#1a1a1a" stroke-width="1"/>
<text x="32.20" y="596.00" font-size="7.9" text-anchor="end" stroke="#1a1a1a" stroke-width="0.15">0.6</text>
<line x1="129.24" y1="655.00" x2="129.24" y2="658.00" stroke="#1a1a1a" stroke-width="1"/>
<text x="129.24" y="668.76" font-size="7.9" text-anchor="middle" stroke="#1a1a1a" stroke-width="0.15">0.6</text>
<line x1="35.00" y1="574.12" x2="38.50" y2="574.12" stroke="#1a1a1a" stroke-width="1"/>
<text x="32.20" y="576.88" font-size="7.9" text-anchor="end" stroke="#1a1a1a" stroke-width="0.15">0.8</text>
<line x1="157.12" y1="655.00" x2="157.12" y2="658.00" stroke="#1a1a1a" stroke-width="1"/>
<text x="157.12" y="668.76" font-size="7.9" text-anchor="middle" stroke="#1a1a1a" stroke-width="0.15">0.8</text>
<line x1="35.00" y1="555.00" x2="38.50" y2="555.00" stroke="#1a1a1a" stroke-width="1"/>
<text x="32.20" y="557.76" font-size="7.9" text-anchor="end" stroke="#1a1a1a" stroke-width="0.15">1.0</text>
<line x1="185.00" y1="655.00" x2="185.00" y2="658.00" stroke="#1a1a1a" stroke-width="1"/>
<text x="185.00" y="668.76" font-size="7.9" text-anchor="middle" stroke="#1a1a1a" stroke-width="0.15">1.0</text>
<text x="15.40" y="602.40" font-size="9.4" text-anchor="middle" stroke="#1a1a1a" stroke-width="0.26" textLength="50.00" lengthAdjust="spacingAndGlyphs" transform="rotate(-90 15.40 602.40)">True positive rate</text>
<text x="114.70" y="681.20" font-size="9" text-anchor="middle" stroke="#1a1a1a" stroke-width="0.26" textLength="53.20" lengthAdjust="spacingAndGlyphs">False positive rate</text>
<line x1="45.4" y1="649.8" x2="180.8" y2="556.7" stroke="#dca050" stroke-width="1.2" stroke-dasharray="1.8,1.4"/>
<polyline points="45.20,650.40 46.70,643.20 53.90,623.60 59.60,618.70 91.40,592.70 99.40,581.20 136.00,563.90 180.80,557.50" fill="none" stroke="#cf3a66" stroke-width="1.1" stroke-linejoin="round"/>
<polyline points="45.20,646.00 55.30,630.20 74.00,583.20 100.00,572.50 140.40,561.80 180.80,557.50" fill="none" stroke="#3f6d93" stroke-width="1.1" stroke-linejoin="round"/>
<line x1="88.00" y1="632.90" x2="96.20" y2="632.90" stroke="#cf3a66" stroke-width="1.3"/>
<text x="99.30" y="635.66" font-size="7.9" text-anchor="start" stroke="#1a1a1a" stroke-width="0.06" textLength="110.50" lengthAdjust="spacingAndGlyphs">Day 7 ROC curve (Area = 0.76)</text>
<line x1="88.00" y1="642.90" x2="96.20" y2="642.90" stroke="#3f6d93" stroke-width="1.3"/>
<text x="99.30" y="645.66" font-size="7.9" text-anchor="start" stroke="#1a1a1a" stroke-width="0.06" textLength="114.50" lengthAdjust="spacingAndGlyphs">Day 14 ROC curve (Area = 0.79)</text>
<rect x="0.5" y="0.5" width="519" height="689" fill="none" stroke="#444" stroke-width="1"/>
</svg>
</body></html>
